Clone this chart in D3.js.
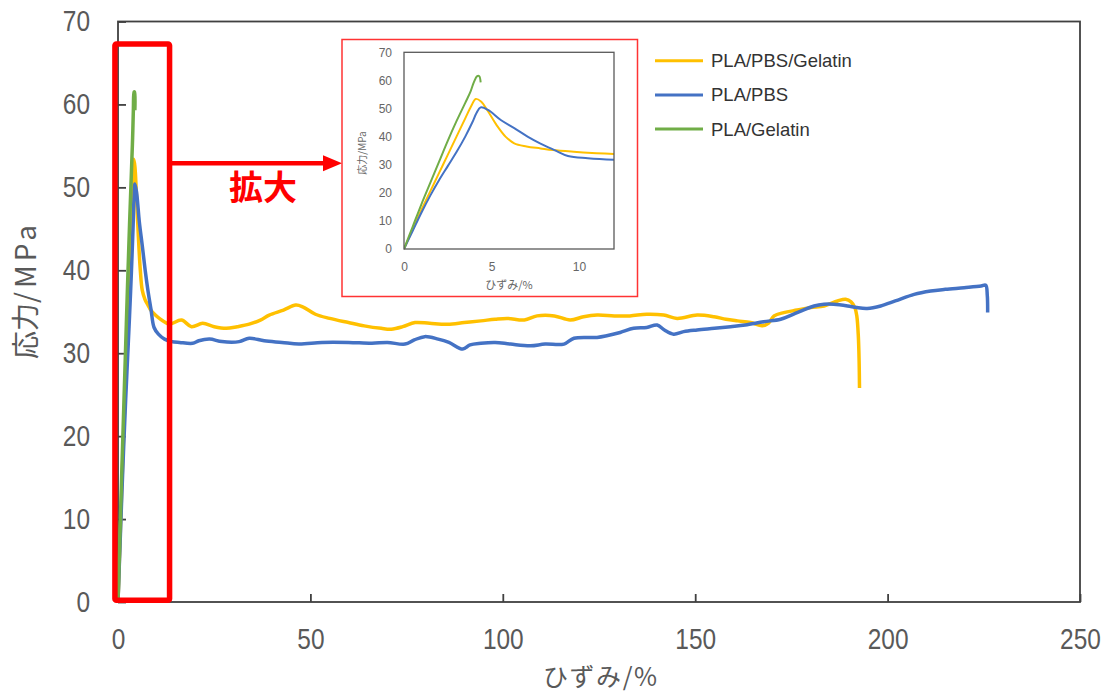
<!DOCTYPE html>
<html>
<head>
<meta charset="utf-8">
<script src="https://cdn.jsdelivr.net/npm/d3@7"></script>
<style>
  body { margin: 0; background: #fff; }
  svg { display: block; }
</style>
</head>
<body>
<div id="main"></div>
<script>
// strain (%) / stress (MPa) pairs
const gelatinBlend = [[0,0],[0.5,7],[1,14],[1.5,20.5],[2,27],[2.5,33.5],[3,40],[3.5,46.5],[3.85,51],[4.1,53.4],[4.4,52.5],[4.8,49],[5.3,44],[5.8,40],[6.3,37.6],[7,36.5],[7.8,35.8],[8.5,35.2],[9.7,34.6],[11,34.1],[12,33.8],[13.4,33.5],[16.5,34.0],[19.1,33.2],[22,33.6],[25,33.2],[28.1,33.0],[31,33.2],[34.1,33.5],[37,34],[39.3,34.6],[43,35.2],[46.2,35.8],[48,35.6],[51.3,34.7],[55,34.2],[59.9,33.7],[64,33.3],[68.4,33.0],[71,32.9],[74,33.2],[77.2,33.7],[81,33.6],[85.7,33.5],[90,33.7],[94.3,33.9],[98,34.1],[101.2,34.2],[105.6,34.0],[108.9,34.5],[113.4,34.5],[117.5,34.0],[121,34.4],[124.5,34.6],[129,34.5],[133,34.5],[137.4,34.7],[141.8,34.6],[145.3,34.2],[150.5,34.6],[154.9,34.4],[158,34.1],[161,33.9],[164.4,33.7],[167.4,33.3],[169,33.6],[170.5,34.5],[173,34.9],[176.5,35.2],[180,35.5],[183.5,35.7],[187,36.3],[189.1,36.5],[190.5,36.2],[191.5,35.5],[192,34.5],[192.4,32],[192.6,29],[192.7,25.8]];

const pbsBlend = [[0,0],[0.5,6.5],[1,13],[1.5,19],[2,24.5],[2.5,29.5],[3,34.5],[3.5,40],[3.9,45],[4.15,48.5],[4.38,50.4],[4.8,49.5],[5.53,45.9],[6.3,43],[7.06,40],[7.8,37.5],[8.6,35.2],[9.37,33.1],[10.5,32.3],[12.1,31.7],[14,31.4],[16,31.3],[19.4,31.2],[21,31.5],[23.8,31.7],[27,31.4],[31.5,31.4],[34.1,31.8],[38,31.5],[42.6,31.3],[47,31.1],[53,31.3],[59.9,31.3],[66,31.2],[70,31.3],[74.6,31.1],[77,31.6],[79.7,32.0],[83.2,31.7],[86,31.3],[89.6,30.5],[91.5,31.0],[94.3,31.2],[98,31.3],[102,31.1],[107.2,30.9],[111,31.1],[115.9,31.1],[118.5,31.8],[124.5,31.9],[127,32.1],[130.5,32.5],[134,33.0],[137.4,33.1],[140.1,33.4],[142,32.8],[144.4,32.3],[147,32.6],[150.5,32.8],[155,33.0],[159.2,33.2],[163,33.4],[167.8,33.8],[172.2,34.1],[176,34.8],[180.9,35.7],[183.5,35.9],[186,35.9],[189.6,35.7],[192,35.5],[194.7,35.4],[198.2,35.7],[202,36.3],[206.9,37.1],[211.2,37.5],[215,37.7],[219.9,37.9],[224.3,38.1],[225.5,38.2],[225.9,37],[226,34.9]];

const gelatinOnly = [[0,0],[0.5,8],[1,16],[1.5,23.5],[2,31],[2.5,38.5],[3,45.5],[3.5,52],[3.8,56],[4,59.5],[4.18,61.5],[4.3,61.5],[4.38,59.3]];

const seriesNames = ['PLA/PBS/Gelatin', 'PLA/PBS', 'PLA/Gelatin'];
const seriesColors = ['#FFC000', '#4472C4', '#70AD47'];
const seriesData = [gelatinBlend, pbsBlend, gelatinOnly];

const xTicks = [0, 50, 100, 150, 200, 250];
const yTicks = [0, 10, 20, 30, 40, 50, 60, 70];
const insetXTicks = [0, 5, 10];

const w = 1111;
const h = 695;
const numFont = '"Liberation Sans", Arial, sans-serif';
const jpFont = '"Noto Sans CJK JP", sans-serif';

const svg = d3.select('#main').append('svg').attr('width', w).attr('height', h);

const x = d3.scaleLinear().domain([0, 250]).range([118, 1080]);
const y = d3.scaleLinear().domain([0, 70]).range([602, 21.5]);

// frame
svg.append('rect')
  .attr('x', x(0)).attr('y', y(70))
  .attr('width', x(250) - x(0)).attr('height', y(0) - y(70))
  .attr('fill', 'none').attr('stroke', '#404040').attr('stroke-width', 1.8);

const yAxis = svg.append('g')
  .attr('transform', `translate(${x(0)},0)`)
  .call(d3.axisLeft(y).tickValues(yTicks).tickSizeInner(-8).tickSizeOuter(0).tickPadding(28));
const xAxis = svg.append('g')
  .attr('transform', `translate(0,${y(0)})`)
  .call(d3.axisBottom(x).tickValues(xTicks).tickSizeInner(-8).tickSizeOuter(0));

[xAxis, yAxis].forEach(g => {
  g.select('.domain').remove();
  g.selectAll('line').attr('stroke', '#404040').attr('stroke-width', 1.8);
  // narrow digits like the original
  g.selectAll('text')
    .attr('fill', '#595959')
    .style('font-family', numFont).style('font-size', '29px')
    .attr('textLength', d => String(d).length * 13.6)
    .attr('lengthAdjust', 'spacingAndGlyphs');
});
xAxis.selectAll('text').attr('y', 47).attr('dy', 0);

const yTitle = svg.append('text')
  .attr('transform', 'translate(36,290) rotate(-90)')
  .attr('text-anchor', 'middle')
  .attr('fill', '#595959').style('font-family', jpFont).style('font-size', '28px');
yTitle.append('tspan').text('応力');
yTitle.append('tspan').style('letter-spacing', '4px').text('/MPa');

svg.append('text')
  .attr('x', 600).attr('y', 686)
  .attr('text-anchor', 'middle')
  .attr('textLength', 114).attr('lengthAdjust', 'spacing')
  .attr('fill', '#595959').style('font-family', jpFont).style('font-size', '25px')
  .text('ひずみ/%');

const line = d3.line().x(d => x(d[0])).y(d => y(d[1])).curve(d3.curveCatmullRom.alpha(0.5));

svg.selectAll('.series')
  .data(seriesData)
  .enter()
  .append('path')
  .attr('class', 'series')
  .attr('d', line)
  .attr('fill', 'none')
  .attr('stroke', (d, i) => seriesColors[i])
  .attr('stroke-width', 3.5)
  .attr('stroke-linejoin', 'round');

// legend
const legend = svg.append('g');
seriesNames.forEach((name, i) => {
  const ly = 60.7 + i * 34.2;
  legend.append('line')
    .attr('x1', 655).attr('x2', 703).attr('y1', ly).attr('y2', ly)
    .attr('stroke', seriesColors[i]).attr('stroke-width', 3);
  legend.append('text')
    .attr('x', 711).attr('y', ly).attr('dy', '0.35em')
    .attr('fill', '#333').style('font-family', '"Liberation Sans", Arial, sans-serif').style('font-size', '18.5px')
    .text(name);
});

// zoom box and arrow
const box = { x0: -0.8, x1: 13.4, y0: 0.2, y1: 67.3 };
const inset = { left: 342, top: 39.5, right: 637.5, bottom: 296.5 };
const arrowY = y(52.9);

svg.append('line')
  .attr('x1', x(box.x1)).attr('x2', inset.left - 16)
  .attr('y1', arrowY).attr('y2', arrowY)
  .attr('stroke', '#ff0000').attr('stroke-width', 4.5);
svg.append('path')
  .attr('d', `M${inset.left},${arrowY} L${inset.left - 19},${arrowY - 8} L${inset.left - 19},${arrowY + 8} Z`)
  .attr('fill', '#ff0000');

svg.append('text')
  .attr('x', 229).attr('y', 200)
  .attr('fill', '#ff0000').style('font-family', jpFont).style('font-size', '34px').style('font-weight', 'bold')
  .text('拡大');

svg.append('rect')
  .attr('x', x(box.x0)).attr('y', y(box.y1))
  .attr('width', x(box.x1) - x(box.x0)).attr('height', y(box.y0) - y(box.y1))
  .attr('rx', 1.5)
  .attr('fill', 'none').attr('stroke', '#ff0000').attr('stroke-width', 5.5);

// inset
svg.append('rect')
  .attr('x', inset.left).attr('y', inset.top)
  .attr('width', inset.right - inset.left).attr('height', inset.bottom - inset.top)
  .attr('fill', '#fff').attr('stroke', '#ff3333').attr('stroke-width', 1.5);

const ix = d3.scaleLinear().domain([0, 12]).range([404, 614]);
const iy = d3.scaleLinear().domain([0, 70]).range([249, 52.3]);

svg.append('defs').append('clipPath').attr('id', 'inset-clip')
  .append('rect')
  .attr('x', ix(0)).attr('y', iy(70) - 5)
  .attr('width', ix(12) - ix(0)).attr('height', iy(0) - iy(70) + 10);

const iyAxis = svg.append('g')
  .attr('transform', `translate(${ix(0)},0)`)
  .call(d3.axisLeft(iy).tickValues(yTicks).tickSize(0).tickPadding(12));
const ixAxis = svg.append('g')
  .attr('transform', `translate(0,${iy(0)})`)
  .call(d3.axisBottom(ix).tickValues(insetXTicks).tickSize(0));
[ixAxis, iyAxis].forEach(g => {
  g.select('.domain').remove();
  g.selectAll('text').attr('fill', '#666').style('font-family', '"Liberation Sans", Arial, sans-serif').style('font-size', '12px');
});
ixAxis.selectAll('text').attr('y', 22).attr('dy', 0);

const iline = d3.line().x(d => ix(d[0])).y(d => iy(d[1])).curve(d3.curveCatmullRom.alpha(0.5));

svg.append('g')
  .attr('clip-path', 'url(#inset-clip)')
  .selectAll('path')
  .data(seriesData)
  .enter()
  .append('path')
  .attr('d', iline)
  .attr('fill', 'none')
  .attr('stroke', (d, i) => seriesColors[i])
  .attr('stroke-width', 2)
  .attr('stroke-linejoin', 'round');

svg.append('rect')
  .attr('x', ix(0)).attr('y', iy(70))
  .attr('width', ix(12) - ix(0)).attr('height', iy(0) - iy(70))
  .attr('fill', 'none').attr('stroke', '#595959').attr('stroke-width', 1.3);

svg.append('text')
  .attr('transform', 'translate(366,153) rotate(-90)')
  .attr('text-anchor', 'middle')
  .attr('fill', '#666').style('font-family', jpFont).style('font-size', '10px')
  .text('応力/MPa');

svg.append('text')
  .attr('x', 509).attr('y', 289)
  .attr('text-anchor', 'middle')
  .attr('fill', '#666').style('font-family', jpFont).style('font-size', '11px')
  .text('ひずみ/%');
</script>
</body>
</html>
